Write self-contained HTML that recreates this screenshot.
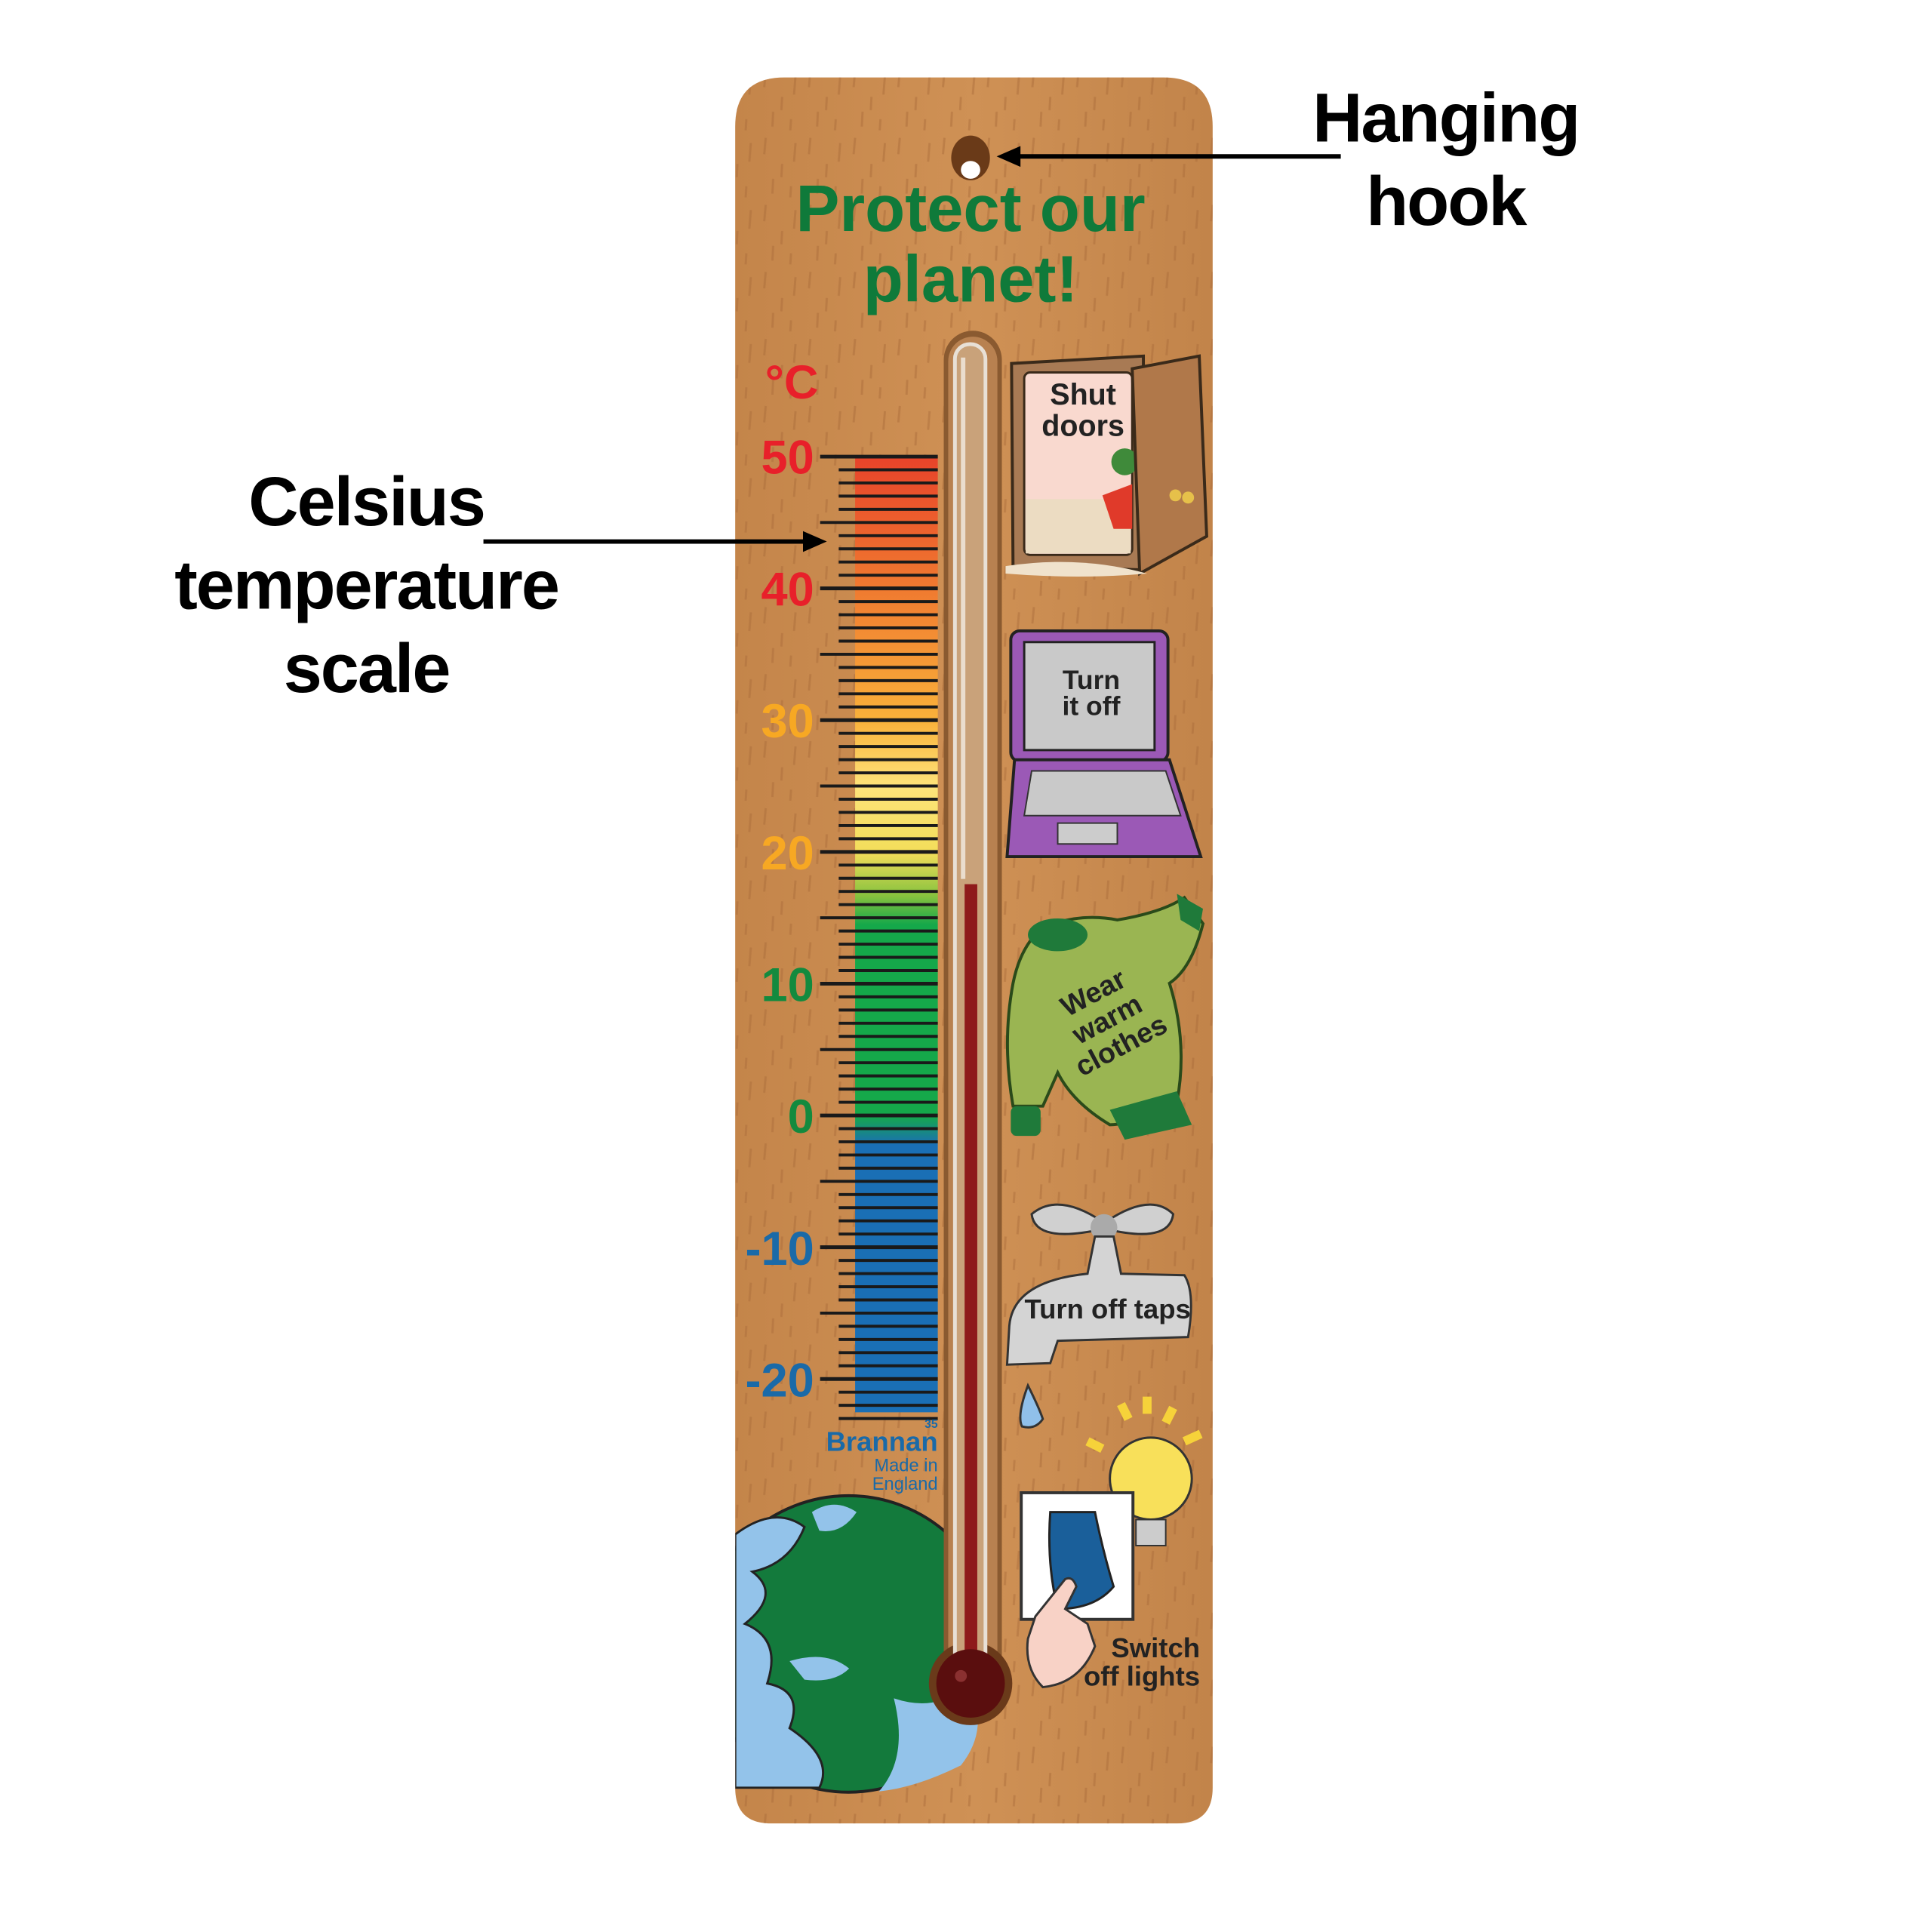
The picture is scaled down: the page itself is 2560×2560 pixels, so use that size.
<!DOCTYPE html>
<html><head><meta charset="utf-8"><style>
html,body{margin:0;padding:0;background:#fff;}
svg{display:block;}
text{font-family:"Liberation Sans",Arial,sans-serif;font-weight:bold;}
</style></head><body>
<svg id="s" width="2560" height="2560" viewBox="0 0 2560 2560" xmlns="http://www.w3.org/2000/svg">
<defs>
<linearGradient id="wood" x1="0" y1="0" x2="1" y2="0">
<stop offset="0" stop-color="#c4854a"/><stop offset="0.5" stop-color="#cf9155"/><stop offset="1" stop-color="#c2844a"/>
</linearGradient>
<pattern id="grain" width="60" height="90" patternUnits="userSpaceOnUse">
<path d="M8 5 l-2 22 M30 40 l-1 18 M48 12 l-2 25 M18 60 l-1 20 M42 70 l-1 15" stroke="#a86a38" stroke-width="3" opacity="0.45"/>
</pattern>
<linearGradient id="bar" x1="0" y1="613" x2="0" y2="1896" gradientUnits="userSpaceOnUse">
<stop offset="0" stop-color="#e8432a"/>
<stop offset="0.138" stop-color="#f07a30"/>
<stop offset="0.276" stop-color="#f9b13a"/>
<stop offset="0.345" stop-color="#fde37a"/>
<stop offset="0.414" stop-color="#f3de5a"/>
<stop offset="0.46" stop-color="#86c23e"/>
<stop offset="0.49" stop-color="#15a84a"/>
<stop offset="0.69" stop-color="#15a84a"/>
<stop offset="0.72" stop-color="#1a6fb5"/>
<stop offset="1" stop-color="#1a6fb5"/>
</linearGradient>
<clipPath id="board"><path d="M1053 104 H1562 Q1628 104 1628 170 V2400 Q1628 2448 1580 2448 H1035 Q987 2448 987 2400 V170 Q987 104 1053 104 Z"/></clipPath>
</defs>
<g transform="scale(0.987)">
<!-- board -->
<path d="M1053 104 H1562 Q1628 104 1628 170 V2400 Q1628 2448 1580 2448 H1035 Q987 2448 987 2400 V170 Q987 104 1053 104 Z" fill="url(#wood)"/>
<path d="M1053 104 H1562 Q1628 104 1628 170 V2400 Q1628 2448 1580 2448 H1035 Q987 2448 987 2400 V170 Q987 104 1053 104 Z" fill="url(#grain)"/>

<!-- hole -->
<ellipse cx="1303" cy="212" rx="26" ry="30" fill="#6a3a18"/>
<ellipse cx="1303" cy="228" rx="13" ry="12" fill="#fff"/>

<!-- title -->
<text x="1303" y="310" font-size="88" fill="#0f7a3a" text-anchor="middle">Protect our</text>
<text x="1303" y="405" font-size="88" fill="#0f7a3a" text-anchor="middle">planet!</text>

<!-- globe -->
<g clip-path="url(#board)">
<circle cx="1139" cy="2207" r="199" fill="#137a3c" stroke="#222" stroke-width="4"/>
<path d="M987 2060 Q1040 2020 1080 2050 Q1060 2100 1010 2110 Q1050 2140 1000 2180 Q1050 2200 1030 2260 Q1080 2270 1060 2320 Q1120 2360 1100 2400 L987 2400 Z" fill="#93c3ea" stroke="#222" stroke-width="3"/>
<path d="M1060 2230 Q1110 2215 1140 2240 Q1120 2260 1080 2255 Z" fill="#93c3ea"/>
<path d="M1200 2280 Q1260 2300 1300 2260 Q1330 2320 1290 2370 Q1230 2400 1180 2405 Q1220 2360 1200 2280 Z" fill="#93c3ea"/>
<path d="M1090 2030 Q1120 2010 1150 2030 Q1130 2060 1100 2055 Z" fill="#93c3ea"/>
</g>

<!-- scale bar -->
<rect x="1148" y="613" width="111" height="1283" fill="url(#bar)"/>
<g id="ticks" stroke="#1a1a1a" stroke-width="4"></g>

<!-- labels -->
<text x="1027" y="535" font-size="64" fill="#e8202a">°C</text>
<g font-size="64" text-anchor="end">
<text x="1093" y="636" fill="#e8202a">50</text>
<text x="1093" y="813" fill="#e8202a">40</text>
<text x="1093" y="990" fill="#f7a823">30</text>
<text x="1093" y="1167" fill="#f7a823">20</text>
<text x="1093" y="1344" fill="#138a3e">10</text>
<text x="1093" y="1521" fill="#138a3e">0</text>
<text x="1093" y="1698" fill="#1a6aa8">-10</text>
<text x="1093" y="1875" fill="#1a6aa8">-20</text>
</g>
<text x="1259" y="1917" font-size="16" fill="#1a6aa8" font-weight="normal" text-anchor="end">35</text>
<text x="1259" y="1948" font-size="37" fill="#1a6aa8" text-anchor="end">Brannan</text>
<text x="1259" y="1975" font-size="24" fill="#1a6aa8" style="font-weight:normal" text-anchor="end">Made in</text>
<text x="1259" y="2000" font-size="24" fill="#1a6aa8" style="font-weight:normal" text-anchor="end">England</text>

<!-- thermometer slot -->
<rect x="1267" y="444" width="78" height="1861" rx="39" fill="#8a5a30"/>
<rect x="1273" y="452" width="66" height="1845" rx="33" fill="#b88150"/>
<circle cx="1303" cy="2260" r="56" fill="#6a3a1a"/>
<rect x="1282" y="462" width="41" height="1800" rx="20" fill="#c9a27a" stroke="#e8e0d6" stroke-width="5"/>
<rect x="1290" y="480" width="6" height="700" fill="#f2ece4" opacity="0.8"/>
<rect x="1295" y="1187" width="17" height="1060" fill="#8e1a1a"/>
<circle cx="1303" cy="2260" r="46" fill="#5a0e0e"/>
<circle cx="1290" cy="2250" r="8" fill="#8a3030"/>

<!-- door -->
<path d="M1358 488 L1535 478 L1535 765 L1360 760 Z" fill="#a87a54" stroke="#3a2a1a" stroke-width="4"/>
<rect x="1375" y="500" width="145" height="245" rx="8" fill="#f9d9cf" stroke="#3a2a1a" stroke-width="3"/>
<rect x="1377" y="670" width="141" height="73" fill="#ecdcc2"/>
<circle cx="1510" cy="620" r="18" fill="#3f8a3a"/>
<path d="M1480 665 L1520 650 L1520 710 L1495 710 Z" fill="#e03a2a"/>
<path d="M1520 495 L1610 478 L1620 720 L1530 770 Z" fill="#b0784a" stroke="#3a2a1a" stroke-width="4"/>
<circle cx="1578" cy="665" r="8" fill="#e6c04a"/><circle cx="1595" cy="668" r="8" fill="#e6c04a"/>
<path d="M1350 760 Q1450 745 1540 770 Q1450 778 1350 770 Z" fill="#f0e2cc"/>
<text x="1454" y="543" font-size="40" fill="#222" text-anchor="middle">Shut</text>
<text x="1454" y="585" font-size="40" fill="#222" text-anchor="middle">doors</text>

<!-- laptop -->
<rect x="1357" y="847" width="211" height="175" rx="12" fill="#9b59b6" stroke="#222" stroke-width="4"/>
<rect x="1375" y="862" width="175" height="145" fill="#c9c9c9" stroke="#222" stroke-width="3"/>
<path d="M1362 1020 L1570 1020 L1612 1150 L1352 1150 Z" fill="#9b59b6" stroke="#222" stroke-width="4"/>
<path d="M1385 1035 L1565 1035 L1585 1095 L1375 1095 Z" fill="#c9c9c9" stroke="#333" stroke-width="2"/>
<rect x="1420" y="1105" width="80" height="28" fill="#ccc" stroke="#333" stroke-width="2"/>
<text x="1465" y="925" font-size="36" fill="#222" text-anchor="middle">Turn</text>
<text x="1465" y="960" font-size="36" fill="#222" text-anchor="middle">it off</text>

<!-- sweater -->
<path d="M1400 1245 Q1450 1225 1500 1235 Q1560 1225 1590 1205 L1615 1240 Q1600 1300 1570 1320 Q1595 1400 1580 1480 Q1520 1510 1490 1510 Q1440 1480 1420 1440 L1400 1485 L1360 1485 Q1345 1400 1360 1320 Q1370 1270 1400 1245 Z" fill="#9ab552" stroke="#2a4a1a" stroke-width="4"/>
<ellipse cx="1420" cy="1255" rx="40" ry="22" fill="#1f7a3a"/>
<path d="M1580 1200 L1615 1220 L1610 1250 L1585 1235 Z" fill="#1f7a3a"/>
<rect x="1357" y="1485" width="40" height="40" rx="8" fill="#1f7a3a"/>
<path d="M1490 1490 L1580 1465 L1600 1510 L1510 1530 Z" fill="#1f7a3a"/>
<g transform="rotate(-28 1490 1375)" font-size="38" fill="#222" text-anchor="middle">
<text x="1490" y="1340">Wear</text><text x="1490" y="1380">warm</text><text x="1490" y="1420">clothes</text>
</g>

<!-- tap -->
<path d="M1480 1640 Q1420 1600 1385 1630 Q1390 1670 1480 1650 Z" fill="#d0d0d0" stroke="#333" stroke-width="3"/>
<path d="M1485 1640 Q1545 1600 1575 1630 Q1570 1670 1485 1650 Z" fill="#d0d0d0" stroke="#333" stroke-width="3"/>
<circle cx="1482" cy="1648" r="18" fill="#aaa"/>
<path d="M1470 1660 L1495 1660 L1505 1710 L1590 1712 Q1605 1735 1595 1795 L1420 1800 L1410 1830 L1352 1832 L1355 1780 Q1360 1720 1460 1710 Z" fill="#d4d4d4" stroke="#333" stroke-width="3"/>
<path d="M1380 1860 Q1395 1890 1400 1905 Q1390 1920 1372 1915 Q1365 1900 1380 1860 Z" fill="#90c0ea" stroke="#333" stroke-width="3"/>
<text x="1487" y="1770" font-size="37" fill="#222" text-anchor="middle">Turn off taps</text>

<!-- light switch -->
<g stroke="#f6d23a" stroke-width="12">
<line x1="1460" y1="1935" x2="1480" y2="1945"/><line x1="1505" y1="1885" x2="1515" y2="1905"/>
<line x1="1540" y1="1875" x2="1540" y2="1898"/><line x1="1575" y1="1890" x2="1565" y2="1910"/><line x1="1612" y1="1925" x2="1590" y2="1935"/>
</g>
<circle cx="1545" cy="1985" r="55" fill="#f8e05a" stroke="#333" stroke-width="3"/>
<path d="M1525 2040 L1565 2040 L1565 2075 L1525 2075 Z" fill="#ccc" stroke="#333" stroke-width="2"/>
<rect x="1371" y="2004" width="150" height="170" fill="#fff" stroke="#333" stroke-width="4"/>
<path d="M1410 2030 L1470 2030 Q1480 2080 1495 2130 Q1470 2160 1420 2160 Q1405 2100 1410 2030 Z" fill="#1a5f9a" stroke="#222" stroke-width="3"/>
<path d="M1390 2170 L1430 2120 Q1440 2115 1445 2130 L1430 2160 L1460 2180 L1470 2210 Q1450 2260 1400 2265 Q1375 2240 1380 2200 Z" fill="#f8d2c6" stroke="#333" stroke-width="3"/>
<text x="1611" y="2225" font-size="37" fill="#222" text-anchor="end">Switch</text>
<text x="1611" y="2263" font-size="37" fill="#222" text-anchor="end">off lights</text>

<!-- annotations -->
<text x="1941" y="190" font-size="93" fill="#000" text-anchor="middle" letter-spacing="-2">Hanging</text>
<text x="1941" y="302" font-size="93" fill="#000" text-anchor="middle" letter-spacing="-2">hook</text>
<line x1="1800" y1="210" x2="1365" y2="210" stroke="#000" stroke-width="6"/>
<polygon points="1338,210 1370,196 1370,224" fill="#000"/>

<text x="492" y="705" font-size="93" fill="#000" text-anchor="middle" letter-spacing="-2">Celsius</text>
<text x="492" y="817" font-size="93" fill="#000" text-anchor="middle" letter-spacing="-2">temperature</text>
<text x="492" y="929" font-size="93" fill="#000" text-anchor="middle" letter-spacing="-2">scale</text>
<line x1="649" y1="727" x2="1085" y2="727" stroke="#000" stroke-width="6"/>
<polygon points="1110,727 1078,713 1078,741" fill="#000"/>
</g>
</svg>
<script>
var g=document.getElementById('ticks');
for(var t=50;t>=-23;t--){
 var y=613+(50-t)*17.69;
 var l=document.createElementNS('http://www.w3.org/2000/svg','line');
 l.setAttribute('x1',t%5==0?1101:1126);l.setAttribute('x2',1259);
 l.setAttribute('y1',y);l.setAttribute('y2',y);
 if(t%10==0)l.setAttribute('stroke-width',5);
 g.appendChild(l);
}
</script>
</body></html>
